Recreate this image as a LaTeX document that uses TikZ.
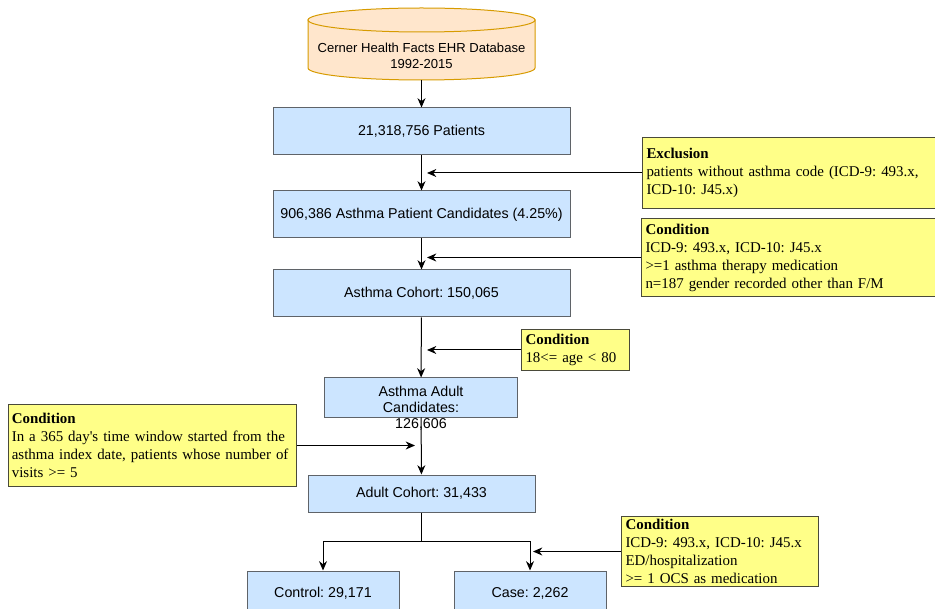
\documentclass[tikz,border=0pt]{standalone}
\usepackage{fontspec}
\setmainfont{Liberation Serif}
\setsansfont{Liberation Sans}
\usepackage{xcolor}
\usetikzlibrary{arrows.meta,positioning,calc}
\definecolor{boxblue}{HTML}{CCE5FF}
\definecolor{boxline}{HTML}{5F6368}
\definecolor{noteyellow}{HTML}{FFFF88}
\definecolor{noteline}{HTML}{4A4A3A}
\definecolor{dbfill}{HTML}{FFE6CC}
\definecolor{dbline}{HTML}{D79B00}
\frenchspacing

\begin{document}
\begin{tikzpicture}[x=0.75pt,y=-0.75pt,
                    every node/.style={inner sep=0pt},
                    sans/.style={font=\sffamily\fontsize{10.7}{12}\selectfont},
                    box/.style={sans,draw=boxline,fill=boxblue,line width=0.75pt,align=center},
                    note/.style={draw=noteline,fill=noteyellow,line width=0.75pt,anchor=north west,
                                 align=left,inner xsep=3pt,font=\fontsize{11.2}{13.5}\selectfont},
                    arr/.style={-{Stealth[length=7pt,width=6pt]},line width=0.75pt}]
                                \useasboundingbox (0,0) rectangle (935,609);

                                \filldraw[fill=dbfill,draw=dbline,line width=0.75pt]
                                    (308,20) -- (308,68) arc[start angle=180,end angle=0,x radius=113.5,y radius=12] -- (535,20) -- cycle;
                                \filldraw[fill=dbfill,draw=dbline,line width=0.75pt] (421.5,20) ellipse[x radius=113.5,y radius=12];
                                \node[font=\sffamily\fontsize{9.8}{12}\selectfont,align=center] (db) at (421.5,56) {Cerner Health Facts EHR Database\\1992-2015};
                                \coordinate (dbb) at (421.5,80);

                                \node[box,minimum width=222.75pt,minimum height=35.25pt] (pat) at (421.5,131.5) {21,318,756 Patients};
                                \node[box,minimum width=222.75pt,minimum height=35.25pt] (cand) at (421.5,214.5) {906,386 Asthma Patient Candidates (4.25\%)};
                                \node[box,minimum width=222.75pt,minimum height=35.25pt] (coh) at (421.5,293.5) {Asthma Cohort: 150,065};
                                \node[box,minimum width=144.75pt,minimum height=29.25pt,text height=22.5pt,text depth=0pt] (adc) at (421,397.5) {Asthma Adult\\Candidates:};
                                \node[sans] (adcn) at (421,424) {126,606};
                                \node[box,minimum width=170.25pt,minimum height=27.75pt] (adu) at (421.5,493.5) {Adult Cohort: 31,433};
                                \node[box,minimum width=114pt,minimum height=33pt] (ctl) at (323,593) {Control: 29,171};
                                \node[box,minimum width=114pt,minimum height=33pt] (cas) at (530,593) {Case: 2,262};

                                \node[note,text width=214.5pt,minimum height=53.25pt] (excl) at (642,137)
                                    {\textbf{Exclusion}\\patients without asthma code (ICD-9: 493.x,\\ICD-10: J45.x)};
                                \node[note,text width=215.25pt,minimum height=58.5pt] (cnda) at (641,218)
                                    {\textbf{Condition}\\ICD-9: 493.x, ICD-10: J45.x\\>=1 asthma therapy medication\\n=187 gender recorded other than F/M};
                                \node[note,text width=75pt,minimum height=30.75pt] (cndb) at (521,329)
                                    {\textbf{Condition}\\18<= age < 80};
                                \node[note,text width=211pt,inner xsep=2.5pt,minimum height=61.5pt] (cndc) at (8,404)
                                    {\textbf{Condition}\\In a 365 day\textquotesingle s time window started from the\\asthma index date, patients whose number of\\visits >= 5};
                                \node[note,text width=141.75pt,minimum height=52.5pt] (cndd) at (621,516)
                                    {\textbf{Condition}\\ICD-9: 493.x, ICD-10: J45.x\\ED/hospitalization\\>= 1 OCS as medication};

                                \coordinate (rx) at (427,0);
                                \coordinate (lx) at (415,0);
                                \coordinate (cx) at (533,0);
                                \coordinate (split) at (421.5,541);

                                \draw[arr] (dbb) -- (pat);
                                \draw[arr] (pat) -- (cand);
                                \draw[arr] (cand) -- (coh);
                                \draw[arr] (coh) -- (adc);
                                \draw[arr] (adc) -- (adu);
                                \draw[line width=0.75pt] (adu) -- (split);
                                \draw[arr] (split) -| (ctl);
                                \draw[arr] (split) -| (cas);

                                \draw[arr] (excl.west) -- (excl.west -| rx);
                                \draw[arr] (cnda.west) -- (cnda.west -| rx);
                                \draw[arr] (cndb.west) -- (cndb.west -| rx);
                                \draw[arr] (cndc.east) -- (cndc.east -| lx);
                                \draw[arr] (cndd.west) -- (cndd.west -| cx);
                            \end{tikzpicture}
\end{document}
